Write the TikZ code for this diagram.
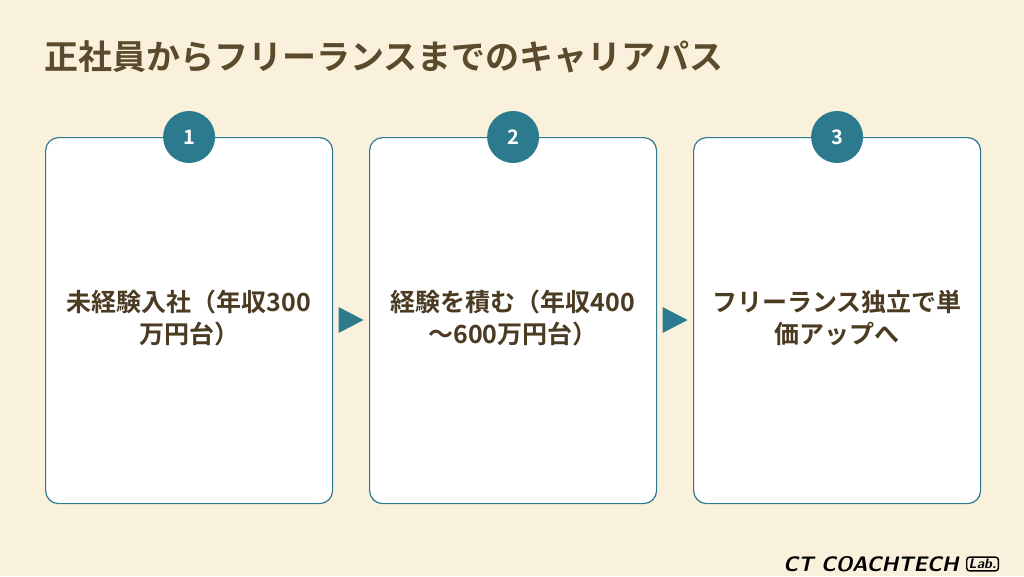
\documentclass[tikz,border=0pt]{standalone}
\usepackage{fontspec}
\newfontfamily\jp{Noto Sans CJK JP}[BoldFont={Noto Sans CJK JP Bold}]
\usetikzlibrary{positioning}
\definecolor{bgcream}{HTML}{FAF1DC}
\definecolor{teal}{HTML}{2B7A8E}
\definecolor{ink}{HTML}{4A3B22}
\definecolor{titleink}{HTML}{5B4A2B}

\begin{document}
\begin{tikzpicture}[x=1pt,y=-1pt,
  step box/.style={draw=teal,line width=1.2pt,fill=white,rounded corners=13pt,
    minimum width=287pt,minimum height=366pt,anchor=north west},
  step num/.style={circle,fill=teal,text=white,minimum size=52pt,inner sep=0pt,
    font=\jp\bfseries\fontsize{20}{24}\selectfont},
  step text/.style={text=ink,align=center,font=\jp\bfseries\fontsize{25}{32}\selectfont},
  step arrow/.style={fill=teal,draw=none}]
  \fill[bgcream] (0,0) rectangle (1024,576);
  \useasboundingbox (0,0) rectangle (1024,576);
  \node[anchor=west,text=titleink,font=\jp\bfseries\fontsize{34}{40}\selectfont] (title) at (41,57) {正社員からフリーランスまでのキャリアパス};
  % steps
  \node[step box] (B1) at (45,137) {};
  \node[step box] (B2) at (369,137) {};
  \node[step box] (B3) at (693,137) {};
  \node[step num] (N1) at (B1.north) {1};
  \node[step num] (N2) at (B2.north) {2};
  \node[step num] (N3) at (B3.north) {3};
  \node[step text] (T1) at ([yshift=3pt]B1.center) {未経験入社（年収300\\万円台）};
  \node[step text] (T2) at ([yshift=3pt]B2.center) {経験を積む（年収400\\〜600万円台）};
  \node[step text] (T3) at ([yshift=3pt]B3.center) {フリーランス独立で単\\価アップへ};
  % arrows
  \coordinate (A1) at (350.5,320);
  \coordinate (A2) at (674.5,320);
  \foreach \a in {A1,A2}
    \fill[step arrow] ([shift={(-12,-13)}]\a) -- ([shift={(13,0)}]\a) -- ([shift={(-12,13)}]\a) -- cycle;
  % logo
  \node[anchor=east,font=\sffamily\bfseries\itshape\fontsize{21}{23}\selectfont] (logo) at (962,564) {CT COACHTECH};
  \node[right=4pt of logo,draw,line width=1.4pt,rounded corners=3pt,inner sep=2pt,
    font=\sffamily\bfseries\itshape\fontsize{14}{16}\selectfont] (lab) {Lab.};
\end{tikzpicture}
\end{document}
